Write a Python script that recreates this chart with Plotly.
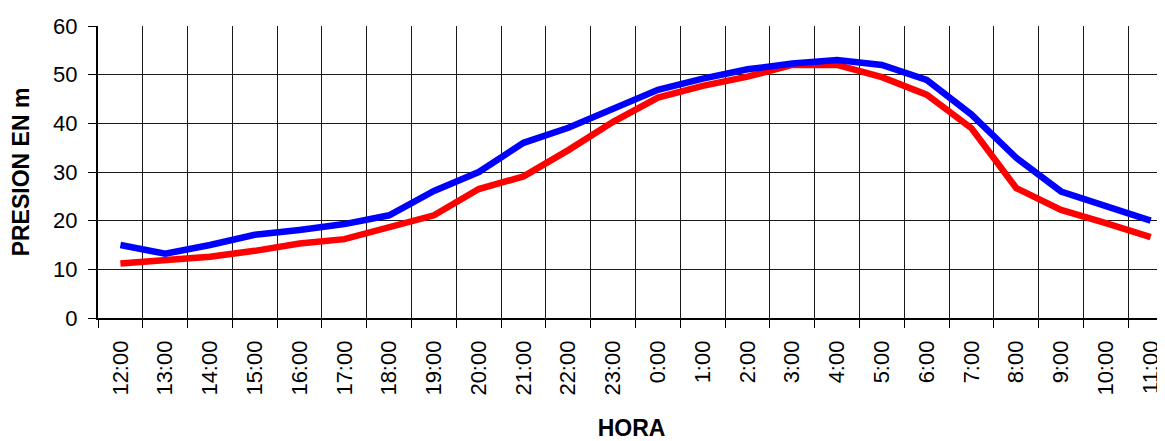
import plotly.graph_objects as go

horas = ["12:00", "13:00", "14:00", "15:00", "16:00", "17:00", "18:00", "19:00",
         "20:00", "21:00", "22:00", "23:00", "0:00", "1:00", "2:00", "3:00",
         "4:00", "5:00", "6:00", "7:00", "8:00", "9:00", "10:00", "11:00"]
presion_azul = [15.0, 13.2, 15.0, 17.1, 18.1, 19.3, 21.1, 26.1, 30.0, 36.0, 39.1, 43.0,
                46.9, 49.2, 51.1, 52.3, 53.0, 52.0, 48.9, 41.8, 32.9, 26.0, 23.1, 20.0]
presion_roja = [11.2, 11.8, 12.6, 13.8, 15.3, 16.2, 18.7, 21.1, 26.5, 29.1, 34.5, 40.3,
                45.3, 47.7, 49.6, 52.0, 52.0, 49.5, 45.9, 39.0, 26.7, 22.2, 19.5, 16.6]

FONT = "Liberation Sans, Arial, sans-serif"

fig = go.Figure()
fig.add_trace(go.Scatter(x=horas, y=presion_roja, mode="lines",
                         line=dict(color="#FF0000", width=6.5), showlegend=False))
fig.add_trace(go.Scatter(x=horas, y=presion_azul, mode="lines",
                         line=dict(color="#0000FF", width=6.5), showlegend=False))

fig.update_layout(
    width=1157, height=433,
    margin=dict(l=90, r=0, t=18, b=123),
    paper_bgcolor="white", plot_bgcolor="white",
    font=dict(family=FONT, color="black"),
)
fig.update_xaxes(
    type="category", range=[-0.5, 23.32], automargin=False,
    tickson="boundaries", ticks="outside", ticklen=8, tickcolor="black", tickwidth=1,
    showgrid=True, gridcolor="#1a1a1a", gridwidth=1,
    showline=True, linecolor="black", linewidth=1.5,
    tickangle=-90, tickfont=dict(size=22, family=FONT, color="black"),
    ticklabelstandoff=12,
    title=dict(text="<b>HORA</b>", font=dict(size=23, family=FONT, color="black"), standoff=30),
    zeroline=False,
)
fig.update_yaxes(
    range=[0, 60], tickvals=[0, 10, 20, 30, 40, 50, 60], automargin=False,
    ticks="outside", ticklen=8, tickcolor="black", tickwidth=1,
    showgrid=True, gridcolor="#1a1a1a", gridwidth=1,
    showline=True, linecolor="black", linewidth=2,
    tickfont=dict(size=22, family=FONT, color="black"),
    ticklabelstandoff=6,
    title=dict(text="<b>PRESION EN m</b>", font=dict(size=23, family=FONT, color="black"), standoff=17),
    zeroline=False,
)

fig.write_html("out.html")
